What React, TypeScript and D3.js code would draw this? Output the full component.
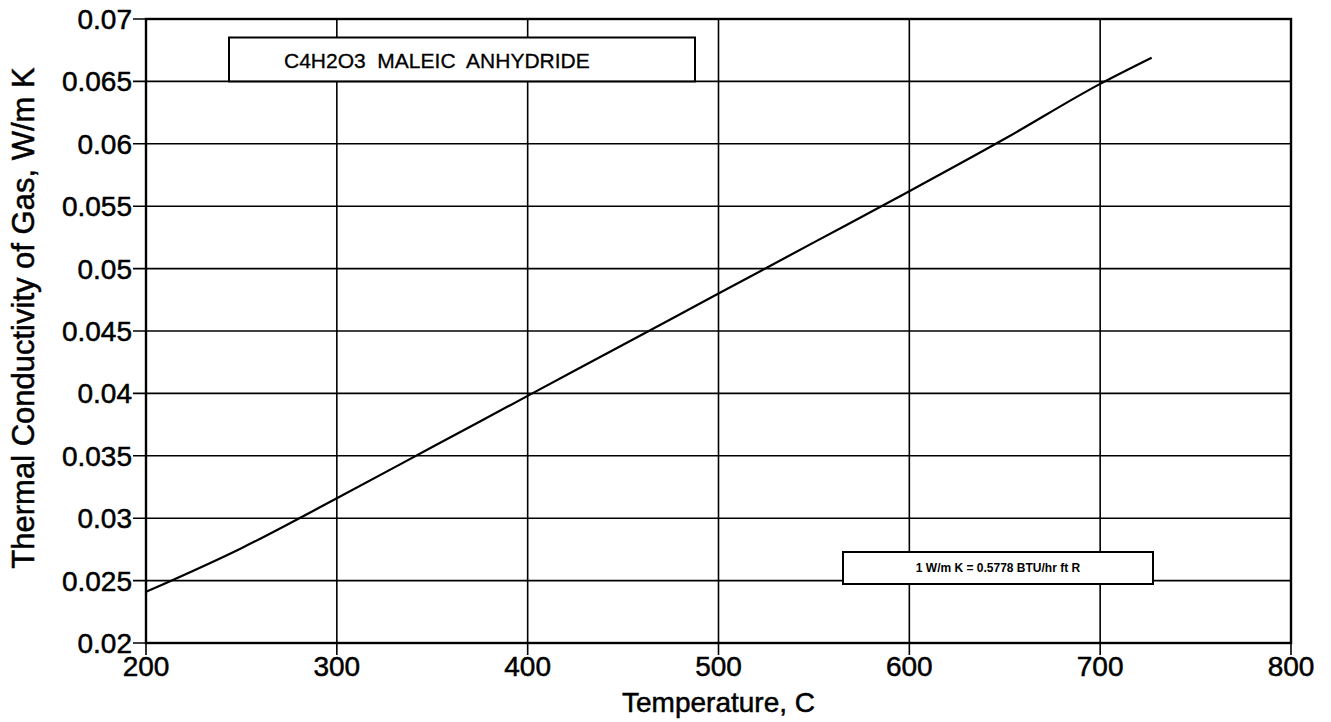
import { useEffect, useRef } from 'react';
import * as d3 from 'd3';

const temps = [200, 250, 300, 350, 400, 450, 500, 550, 600, 650, 700, 727];
const conductivity = [0.0241, 0.0276, 0.0316, 0.0357, 0.0398, 0.0439, 0.048, 0.0521, 0.0562, 0.0604, 0.0648, 0.0669];
const xTicks = [200, 300, 400, 500, 600, 700, 800];
const yTicks = [0.02, 0.025, 0.03, 0.035, 0.04, 0.045, 0.05, 0.055, 0.06, 0.065, 0.07];

const titleText = 'C4H2O3  MALEIC  ANHYDRIDE';
const noteText = '1 W/m K = 0.5778 BTU/hr ft R';

const FONT = '"Liberation Sans", Arial, Helvetica, sans-serif';

const App = () => {
  const ref = useRef<SVGSVGElement>(null);

  useEffect(() => {
    if (!ref.current) return;
    const svg = d3.select(ref.current);
    svg.selectAll('*').remove();

    const left = 146, right = 1291, top = 19, bottom = 643;
    const x = d3.scaleLinear().domain([200, 800]).range([left, right]);
    const y = d3.scaleLinear().domain([0.02, 0.07]).range([bottom, top]);

    svg.append('rect').attr('width', 1331).attr('height', 722).attr('fill', '#fff');

    // grid
    const grid = svg.append('g').attr('stroke', '#000').attr('stroke-width', 1.6);
    grid.selectAll('line.v')
      .data(xTicks)
      .join('line')
      .attr('x1', d => x(d)).attr('x2', d => x(d))
      .attr('y1', top).attr('y2', bottom + 12);
    grid.selectAll('line.h')
      .data(yTicks)
      .join('line')
      .attr('y1', d => y(d)).attr('y2', d => y(d))
      .attr('x1', left - 13).attr('x2', right);

    // frame
    svg.append('rect')
      .attr('x', left).attr('y', top)
      .attr('width', right - left).attr('height', bottom - top)
      .attr('fill', 'none').attr('stroke', '#000').attr('stroke-width', 2.4);

    // title box
    svg.append('rect')
      .attr('x', 229).attr('y', 37.5)
      .attr('width', 695 - 229).attr('height', y(0.065) - 37.5)
      .attr('fill', '#fff').attr('stroke', '#000').attr('stroke-width', 2);
    svg.append('text')
      .attr('x', 284).attr('y', 68)
      .style('font-family', FONT).style('font-size', '21px')
      .style('stroke', '#000').style('stroke-width', 0.3)
      .style('white-space', 'pre')
      .text(titleText);

    // data line
    const line = d3.line<number>()
      .x((_, i) => x(temps[i]))
      .y(d => y(d))
      .curve(d3.curveMonotoneX);
    svg.append('path')
      .datum(conductivity)
      .attr('d', line)
      .attr('fill', 'none').attr('stroke', '#000').attr('stroke-width', 2.2);

    // conversion note
    svg.append('rect')
      .attr('x', 843).attr('y', 552)
      .attr('width', 1153 - 843).attr('height', 32)
      .attr('fill', '#fff').attr('stroke', '#000').attr('stroke-width', 2);
    svg.append('text')
      .attr('x', 998).attr('y', 572)
      .attr('text-anchor', 'middle')
      .style('font-family', FONT).style('font-size', '12px').style('font-weight', 'bold')
      .text(noteText);

    const labelStyle = (sel: any, size: number) =>
      sel.style('font-family', FONT).style('font-size', `${size}px`)
        .style('stroke', '#000').style('stroke-width', 0.5);

    // tick labels
    labelStyle(svg.append('g').selectAll('text')
      .data(xTicks)
      .join('text')
      .attr('x', d => x(d)).attr('y', 676)
      .attr('text-anchor', 'middle')
      .text(d => d3.format('d')(d)), 28);
    labelStyle(svg.append('g').selectAll('text')
      .data(yTicks)
      .join('text')
      .attr('x', 132).attr('y', d => y(d) + 10)
      .attr('text-anchor', 'end')
      .text(d => String(+d.toFixed(3))), 28);

    // axis titles
    labelStyle(svg.append('text')
      .attr('x', (left + right) / 2).attr('y', 712)
      .attr('text-anchor', 'middle')
      .text('Temperature, C'), 28);
    labelStyle(svg.append('text')
      .attr('transform', `translate(34,${318}) rotate(-90)`)
      .attr('text-anchor', 'middle')
      .text('Thermal Conductivity of Gas, W/m K'), 31);
  }, []);

  return (
    <svg
      ref={ref}
      width={1331}
      height={722}
      style={{ position: 'absolute', left: 0, top: 0 }}
    />
  );
};

export default App;
